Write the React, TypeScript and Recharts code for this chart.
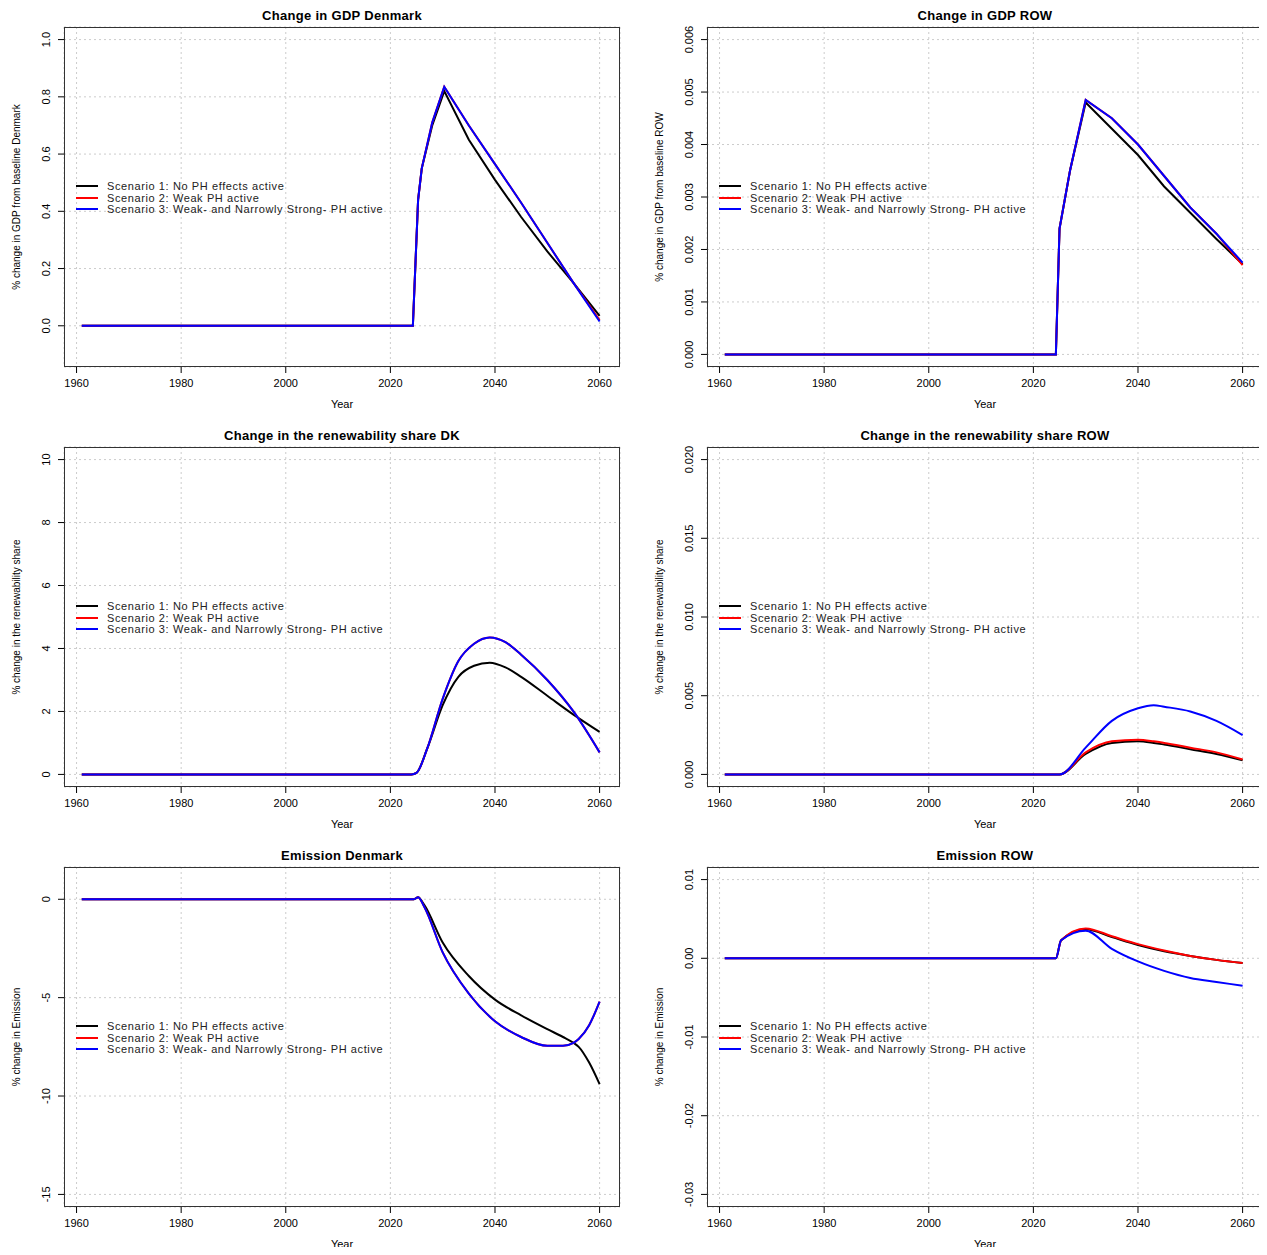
import React from "react";
import { LineChart, Line, XAxis, YAxis, CartesianGrid } from "recharts";

type Pt = { year: number; v: number };

const YEAR_TICKS = [1960, 1980, 2000, 2020, 2040, 2060];
const LEGEND = [
  "Scenario 1: No PH effects active",
  "Scenario 2: Weak PH active",
  "Scenario 3: Weak- and Narrowly Strong- PH active",
];
const COLORS = ["#000000", "#ff0000", "#0000ff"];

// GDP Denmark
const gdpDkYears = [1961, 2024.3, 2025.3, 2026, 2028, 2030.3, 2035, 2040, 2045, 2050, 2055, 2060];
const gdpDkS1 = [0, 0, 0.44, 0.55, 0.7, 0.82, 0.65, 0.51, 0.38, 0.26, 0.15, 0.035];
const gdpDkS2 = [0, 0, 0.44, 0.55, 0.71, 0.835, 0.7, 0.565, 0.43, 0.29, 0.15, 0.02];
const gdpDkS3 = [0, 0, 0.44, 0.55, 0.71, 0.835, 0.7, 0.565, 0.43, 0.29, 0.15, 0.015];

// GDP ROW
const gdpRowYears = [1961, 2024.3, 2025, 2027, 2030, 2035, 2040, 2045, 2050, 2055, 2060];
const gdpRowS1 = [0, 0, 0.0024, 0.0035, 0.0048, 0.0043, 0.0038, 0.0032, 0.0027, 0.0022, 0.00172];
const gdpRowS2 = [0, 0, 0.0024, 0.0035, 0.00485, 0.0045, 0.004, 0.0034, 0.0028, 0.0023, 0.0017];
const gdpRowS3 = [0, 0, 0.0024, 0.0035, 0.00485, 0.0045, 0.004, 0.0034, 0.0028, 0.0023, 0.00175];

// Renewability share DK
const renDkYears = [1961, 2024, 2025, 2027, 2030, 2033, 2036, 2039, 2042, 2045, 2050, 2055, 2060];
const renDkS1 = [0, 0, 0.05, 0.8, 2.2, 3.1, 3.45, 3.55, 3.4, 3.1, 2.5, 1.9, 1.35];
const renDkS2 = [0, 0, 0.05, 0.8, 2.4, 3.6, 4.15, 4.35, 4.2, 3.8, 3.0, 2.0, 0.7];
const renDkS3 = [0, 0, 0.05, 0.8, 2.4, 3.6, 4.15, 4.35, 4.2, 3.8, 3.0, 2.0, 0.7];

// Renewability share ROW
const renRowYears = [1961, 2025, 2030, 2035, 2040, 2043, 2045, 2050, 2055, 2060];
const renRowS1 = [0, 0, 0.0013, 0.002, 0.0021, 0.002, 0.0019, 0.0016, 0.0013, 0.0009];
const renRowS2 = [0, 0, 0.0014, 0.0021, 0.0022, 0.0021, 0.002, 0.0017, 0.0014, 0.00095];
const renRowS3 = [0, 0, 0.0017, 0.0034, 0.0042, 0.0044, 0.0043, 0.004, 0.0034, 0.0025];

// Emission Denmark
const emDkYears = [1961, 2024.5, 2025.3, 2026.5, 2030, 2035, 2040, 2045, 2050, 2053, 2055, 2056, 2058, 2060];
const emDkS1 = [0, 0, 0.1, -0.3, -2.2, -3.9, -5.1, -5.9, -6.6, -7.0, -7.3, -7.5, -8.3, -9.4];
const emDkS2 = [0, 0, 0.1, -0.4, -2.7, -4.8, -6.2, -7.0, -7.45, -7.45, -7.3, -7.1, -6.4, -5.2];
const emDkS3 = [0, 0, 0.1, -0.4, -2.7, -4.8, -6.2, -7.0, -7.45, -7.45, -7.3, -7.1, -6.4, -5.2];

// Emission ROW
const emRowYears = [1961, 2024.3, 2025.3, 2030, 2035, 2040, 2045, 2050, 2055, 2060];
const emRowS1 = [0, 0, 0.0023, 0.0037, 0.0027, 0.0017, 0.0009, 0.0003, -0.0002, -0.0006];
const emRowS2 = [0, 0, 0.0023, 0.0038, 0.0028, 0.0018, 0.001, 0.0003, -0.0002, -0.0006];
const emRowS3 = [0, 0, 0.0023, 0.0035, 0.0012, -0.0004, -0.0016, -0.0025, -0.003, -0.0035];

const zip = (xs: number[], ys: number[]): Pt[] => xs.map((x, i) => ({ year: x, v: ys[i] }));

type PanelDef = {
  title: string;
  ylabel: string;
  years: number[];
  series: number[][];
  domain: [number, number];
  ticks: number[];
  fmt: (v: number) => string;
  curve: "linear" | "monotone";
};

const panels: PanelDef[] = [
  { title: "Change in GDP Denmark", ylabel: "% change in GDP from baseline Denmark", years: gdpDkYears, series: [gdpDkS1, gdpDkS2, gdpDkS3], domain: [-0.144, 1.044], ticks: [0, 0.2, 0.4, 0.6, 0.8, 1.0], fmt: (v) => v.toFixed(1), curve: "linear" },
  { title: "Change in GDP ROW", ylabel: "% change in GDP from baseline ROW", years: gdpRowYears, series: [gdpRowS1, gdpRowS2, gdpRowS3], domain: [-0.00024, 0.00624], ticks: [0, 0.001, 0.002, 0.003, 0.004, 0.005, 0.006], fmt: (v) => v.toFixed(3), curve: "linear" },
  { title: "Change in the renewability share DK", ylabel: "% change in the renewability share", years: renDkYears, series: [renDkS1, renDkS2, renDkS3], domain: [-0.4, 10.4], ticks: [0, 2, 4, 6, 8, 10], fmt: (v) => String(v), curve: "monotone" },
  { title: "Change in the renewability share ROW", ylabel: "% change in the renewability share", years: renRowYears, series: [renRowS1, renRowS2, renRowS3], domain: [-0.0008, 0.0208], ticks: [0, 0.005, 0.01, 0.015, 0.02], fmt: (v) => v.toFixed(3), curve: "monotone" },
  { title: "Emission Denmark", ylabel: "% change in Emission", years: emDkYears, series: [emDkS1, emDkS2, emDkS3], domain: [-15.64, 1.64], ticks: [-15, -10, -5, 0], fmt: (v) => String(v), curve: "monotone" },
  { title: "Emission ROW", ylabel: "% change in Emission", years: emRowYears, series: [emRowS1, emRowS2, emRowS3], domain: [-0.0316, 0.0116], ticks: [-0.03, -0.02, -0.01, 0, 0.01], fmt: (v) => v.toFixed(2), curve: "monotone" },
];

const FONT = "Arial, 'Liberation Sans', sans-serif";

function YTick(props: any) {
  const { x, y, payload, fmt } = props;
  return (
    <text x={x - 6} y={y} transform={`rotate(-90 ${x - 6} ${y})`} textAnchor="middle" fontSize={11} fontFamily={FONT} fill="#000">
      {fmt(payload.value)}
    </text>
  );
}

function Panel({ p, left, top, width, right }: { p: PanelDef; left: number; top: number; width: number; right: number }) {
  const boxL = 64;
  const boxT = 27;
  const boxW = width - 64 - right;
  const boxH = 340;
  return (
    <div style={{ position: "absolute", left, top, width, height: 420, fontFamily: FONT }}>
      <div style={{ position: "absolute", left: boxL, width: boxW, top: 8, textAlign: "center", fontWeight: "bold", fontSize: 13, letterSpacing: 0.3 }}>{p.title}</div>
      <div style={{ position: "absolute", left: boxL, width: boxW, top: 398, textAlign: "center", fontSize: 11 }}>Year</div>
      <div style={{ position: "absolute", left: 16, top: boxT + boxH / 2, transform: "translate(-50%,-50%) rotate(-90deg)", whiteSpace: "nowrap", fontSize: 10 }}>{p.ylabel}</div>
      <LineChart width={width} height={420} margin={{ top: boxT, right, left: 0, bottom: 0 }}>
        <CartesianGrid stroke="#cccccc" strokeDasharray="2 3" />
        <XAxis type="number" dataKey="year" domain={[1957.6, 2063.9]} ticks={YEAR_TICKS} allowDataOverflow height={53}
          tick={{ fontSize: 11, fill: "#000", fontFamily: FONT }} tickLine={{ stroke: "#000" }} tickSize={6} tickMargin={6} axisLine={false} />
        <YAxis type="number" domain={p.domain} ticks={p.ticks} allowDataOverflow width={64}
          tick={<YTick fmt={p.fmt} />} tickLine={{ stroke: "#000" }} tickSize={6} axisLine={false} />
        {p.series.map((s, i) => (
          <Line key={i} data={zip(p.years, s)} dataKey="v" type={p.curve} stroke={COLORS[i]} strokeWidth={2} dot={false} isAnimationActive={false} />
        ))}
      </LineChart>
      <div style={{ position: "absolute", left: boxL, top: boxT, width: boxW, height: boxH, border: "1px solid #333", boxSizing: "border-box", pointerEvents: "none" }} />
      {LEGEND.map((t, i) => (
        <div key={t} style={{ position: "absolute", left: 76, top: boxT + 153 + i * 11.5, fontSize: 11, letterSpacing: 0.6, color: "#222", whiteSpace: "nowrap", display: "flex", alignItems: "center" }}>
          <span style={{ display: "inline-block", width: 22, height: 2, background: COLORS[i], marginRight: 9 }} />
          {t}
        </div>
      ))}
    </div>
  );
}

export default function App() {
  return (
    <div style={{ position: "relative", width: 1267, height: 1255, margin: -8, background: "#fff" }}>
      {panels.map((p, i) => {
        const col = i % 2;
        const row = Math.floor(i / 2);
        return <Panel key={p.title} p={p} left={col === 0 ? 0 : 643} top={row * 420} width={col === 0 ? 633 : 624} right={col === 0 ? 13 : 4} />;
      })}
    </div>
  );
}
